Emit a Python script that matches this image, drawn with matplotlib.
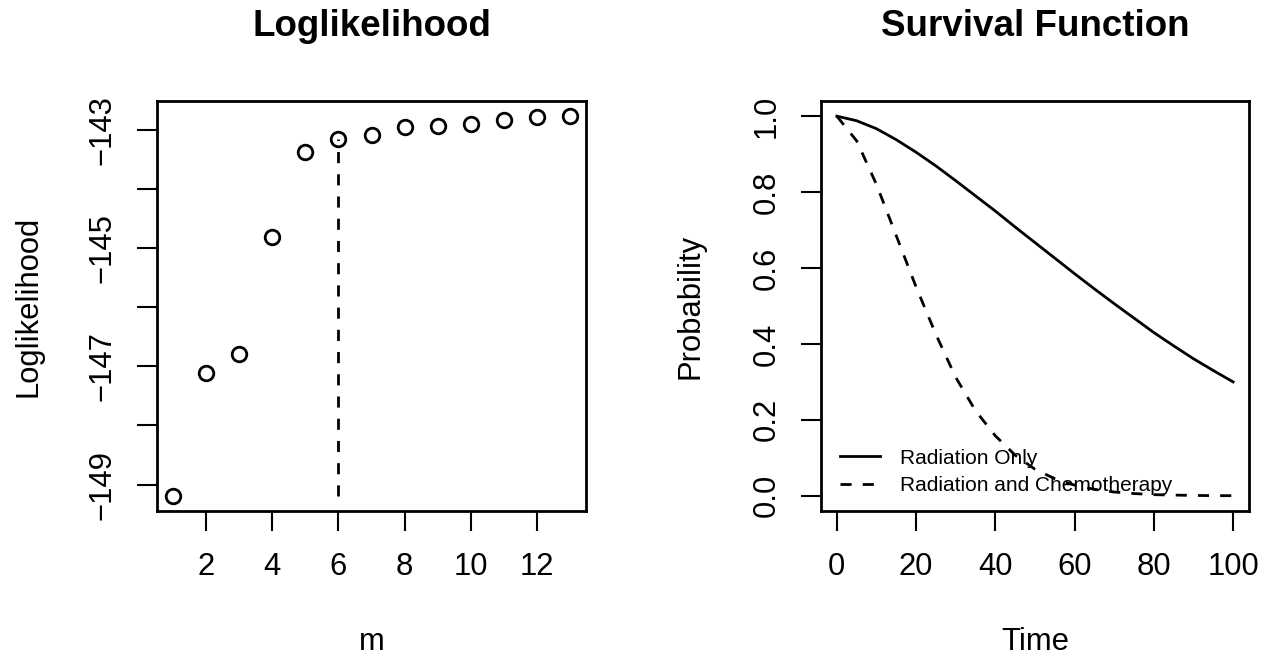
import matplotlib
matplotlib.use("Agg")
import matplotlib.pyplot as plt

plt.rcParams['font.family'] = ['Liberation Sans', 'DejaVu Sans']

# loglikelihood for each number of components m
m_vals = list(range(1, 14))
loglik = [-149.19, -147.11, -146.80, -144.81, -143.38, -143.15, -143.08,
          -142.95, -142.94, -142.91, -142.83, -142.79, -142.77]
m_best = 6

# survival curves
time_pts = [0, 5, 10, 15, 20, 25, 30, 35, 40, 45, 50, 55, 60, 65, 70, 75, 80, 85, 90, 95, 100]
surv_rad = [1.000, 0.988, 0.967, 0.938, 0.905, 0.869, 0.830, 0.790, 0.750, 0.708, 0.667,
            0.626, 0.585, 0.545, 0.506, 0.468, 0.430, 0.395, 0.361, 0.330, 0.300]
surv_chemo = [1.000, 0.935, 0.820, 0.685, 0.550, 0.425, 0.312, 0.224, 0.158, 0.107, 0.070,
              0.045, 0.028, 0.017, 0.010, 0.006, 0.003, 0.002, 0.001, 0.0005, 0.0003]
legend_labels = ['Radiation Only', 'Radiation and Chemotherapy']

left_yticks = [-149, -148, -147, -146, -145, -144, -143]
left_yticklabels = ['\u2212149', '', '\u2212147', '', '\u2212145', '', '\u2212143']
left_xticks = [2, 4, 6, 8, 10, 12]
right_yticks = [0.0, 0.2, 0.4, 0.6, 0.8, 1.0]
right_xticks = [0, 20, 40, 60, 80, 100]

W, H = 1270, 659
fig = plt.figure(figsize=(W / 100, H / 100), dpi=100)

def px_axes(x0, x1, y0, y1):
    return fig.add_axes([x0 / W, 1 - y1 / H, (x1 - x0) / W, (y1 - y0) / H])

ax1 = px_axes(157, 586, 101, 511)
ax2 = px_axes(821, 1249, 101, 511)

tick_fs = 22.3
for ax in (ax1, ax2):
    for s in ax.spines.values():
        s.set_linewidth(2.0)
    ax.tick_params(length=14.4, width=1.5, labelsize=tick_fs, direction='out')
    ax.tick_params(axis='x', pad=15)
    ax.tick_params(axis='y', pad=14, labelrotation=90)

# ---- left panel
ax1.plot(m_vals, loglik, linestyle='none', marker='o', ms=10.5, mfc='none',
         mec='black', mew=2.0, zorder=3)
ax1.plot([m_best, m_best], [min(loglik), loglik[m_best - 1]], color='black',
         lw=2, dashes=(4, 4), zorder=2)
ax1.set_xlim(0.52, 13.48)
ax1.set_ylim(-149.447, -142.513)
ax1.set_xticks(left_xticks)
ax1.set_yticks(left_yticks)
ax1.set_yticklabels(left_yticklabels)
for t, v in zip(ax1.xaxis.get_major_ticks(), left_xticks):
    if v == m_best:
        t.tick1line.set_color('#DF536B')
ax1.set_title('Loglikelihood', fontsize=26.5, fontweight='bold', pad=46.8)
ax1.set_xlabel('m', fontsize=tick_fs)
ax1.set_ylabel('Loglikelihood', fontsize=tick_fs)

# ---- right panel
ax2.plot(time_pts, surv_rad, color='black', lw=2, label=legend_labels[0])
ax2.plot(time_pts, surv_chemo, color='black', lw=2, dashes=(4, 4), label=legend_labels[1])
ax2.set_xlim(-4, 104)
ax2.set_ylim(-0.04, 1.04)
ax2.set_xticks(right_xticks)
ax2.set_yticks(right_yticks)
ax2.set_yticklabels(['%.1f' % v for v in right_yticks])
ax2.set_title('Survival Function', fontsize=26.5, fontweight='bold', pad=46.8)
ax2.set_xlabel('Time', fontsize=tick_fs)
ax2.set_ylabel('Probability', fontsize=tick_fs)
ax2.legend(loc='lower left', bbox_to_anchor=(0.044, 0.039), frameon=False,
           fontsize=15, borderpad=0, borderaxespad=0, handlelength=1.92,
           handletextpad=0.96, labelspacing=0.4)

for ax, yl_x in ((ax1, -0.300), (ax2, -0.306)):
    for lab in ax.get_yticklabels():
        lab.set_va('center')
    ax.xaxis.set_label_coords(0.5, -(627 - 511) / 410)
    ax.yaxis.set_label_coords(yl_x, 0.5)
    ax.yaxis.label.set_va('center')

fig.savefig('out.png', dpi=100)
